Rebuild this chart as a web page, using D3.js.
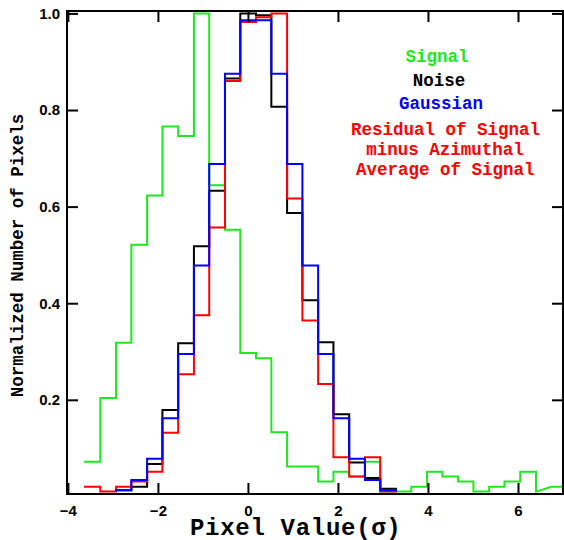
<!DOCTYPE html>
<html><head><meta charset="utf-8">
<script src="https://cdn.jsdelivr.net/npm/d3@7"></script>
<style>body{margin:0;background:#fff} svg{display:block}</style>
</head><body>
<svg id="c" width="564" height="540"></svg>
<script>
// Bin edges (pixel value, sigma)
const binEdges = [-3.62, -3.28, -2.93, -2.59, -2.24, -1.90, -1.55, -1.20, -0.86, -0.51,
  -0.17, 0.18, 0.52, 0.87, 1.21, 1.56, 1.90, 2.25, 2.60, 2.94,
  3.29, 3.63, 3.98, 4.32, 4.67, 5.01, 5.36, 5.70, 6.05, 6.40, 6.74, 7.09];
// Normalized counts per bin (null = no bin drawn)
const signal = [0.072, 0.204, 0.318, 0.521, 0.623, 0.766, 0.746, 1.000, 0.644, 0.552,
  0.297, 0.286, 0.133, 0.062, 0.062, 0.031, 0.051, 0.041, 0.072, 0.010,
  0.010, 0.020, 0.051, 0.041, 0.031, 0.010, 0.020, 0.031, 0.051, 0.010, 0.020];
const signalRampBins = [29];
const noise = [null, null, 0.013, 0.020, 0.067, 0.179, 0.317, 0.518, 0.633, 0.865,
  1.000, 0.996, 0.807, 0.587, 0.406, 0.319, 0.170, 0.070, 0.038, 0.016];
const gaussian = [null, null, 0.013, 0.034, 0.078, 0.162, 0.295, 0.478, 0.688, 0.875,
  0.986, 0.986, 0.875, 0.688, 0.478, 0.295, 0.162, 0.078, 0.034, 0.013];
const residual = [0.020, 0.010, 0.020, 0.031, 0.051, 0.132, 0.253, 0.375, 0.557, 0.860,
  0.982, 0.992, 1.000, 0.617, 0.364, 0.233, 0.081, 0.041, 0.081, 0.010];

const xTicks = [-4, -2, 0, 2, 4, 6];
const yTicks = [0.2, 0.4, 0.6, 0.8, 1.0];
const legendLabels = ["Signal", "Noise", "Gaussian", "Residual of Signal", "minus Azimuthal", "Average of Signal"];

const GREEN = "#1ee81e", BLACK = "#000", BLUE = "#0000ff", RED = "#ff0000";
const L = 67, R = 563, T = 11, B = 494;

const svg = d3.select("#c");
const x = d3.scaleLinear().domain([-4.02, 7]).range([L, R]);
const y = d3.scaleLinear().domain([0.005, 1.005]).range([B, T]);

svg.append("defs").append("clipPath").attr("id", "clip")
  .append("rect").attr("x", L).attr("y", T).attr("width", R - L).attr("height", B - T);

function stepPoints(vals, ramps) {
  const pts = [];
  vals.forEach((v, i) => {
    if (v == null) return;
    if (ramps && ramps.includes(i)) {
      pts.push([binEdges[i], v]);
    } else {
      pts.push([binEdges[i], v]);
      pts.push([binEdges[i + 1], v]);
    }
  });
  return pts;
}
const line = d3.line().x(d => x(d[0])).y(d => y(d[1]));
const g = svg.append("g").attr("clip-path", "url(#clip)");
[[signal, GREEN, signalRampBins], [noise, BLACK], [residual, RED], [gaussian, BLUE]].forEach(([vals, col, ramps]) => {
  g.append("path").attr("d", line(stepPoints(vals, ramps)))
    .attr("fill", "none").attr("stroke", col).attr("stroke-width", 2)
    .attr("stroke-linejoin", "miter").attr("stroke-linecap", "square");
});

// Axes with inward ticks
const tickFont = g2 => g2.selectAll("text")
  .attr("font-family", "'Liberation Sans', Arial, sans-serif")
  .attr("font-weight", "bold").attr("font-size", 15).attr("fill", "#000");
const styleAxis = g2 => { g2.select(".domain").remove(); g2.selectAll(".tick line").attr("stroke", "#000").attr("stroke-width", 2); };

svg.append("g").attr("transform", `translate(0,${B})`)
  .call(d3.axisBottom(x).tickValues(xTicks).tickSize(-11).tickPadding(11).tickFormat(d3.format("d")))
  .call(styleAxis).call(tickFont);
svg.append("g").attr("transform", `translate(0,${T})`)
  .call(d3.axisTop(x).tickValues(xTicks).tickSize(-11).tickFormat(""))
  .call(styleAxis);
svg.append("g").attr("transform", `translate(${L},0)`)
  .call(d3.axisLeft(y).tickValues(yTicks).tickSize(-11).tickPadding(7).tickFormat(d3.format(".1f")))
  .call(styleAxis).call(tickFont);
svg.append("g").attr("transform", `translate(${R},0)`)
  .call(d3.axisRight(y).tickValues(yTicks).tickSize(-11).tickFormat(""))
  .call(styleAxis);

// Frame
svg.append("rect").attr("x", L).attr("y", T).attr("width", R - L).attr("height", B - T)
  .attr("fill", "none").attr("stroke", "#000").attr("stroke-width", 2);

// Legend text
const mono = "'Liberation Mono', 'Courier New', monospace";
const legendPos = [[437, 62, GREEN], [439, 86, BLACK], [441, 108.5, BLUE], [445.5, 134.5, RED], [445, 154.5, RED], [445.3, 174.5, RED]];
legendLabels.forEach((t, i) => {
  svg.append("text").attr("x", legendPos[i][0]).attr("y", legendPos[i][1])
    .attr("text-anchor", "middle").attr("font-family", mono).attr("font-weight", "bold")
    .attr("font-size", 17.5).attr("fill", legendPos[i][2]).text(t);
});

// Axis titles
svg.append("text").attr("transform", "translate(23,255.5) rotate(-90)")
  .attr("text-anchor", "middle").attr("font-family", mono).attr("font-weight", "bold")
  .attr("font-size", 17.5).attr("fill", "#000").text("Normalized Number of Pixels");
svg.append("text").attr("x", 190).attr("y", 535)
  .attr("font-family", mono).attr("font-weight", "bold").attr("letter-spacing", 0.7)
  .attr("font-size", 24).attr("fill", "#000").text("Pixel Value(σ)");
</script>
</body></html>
